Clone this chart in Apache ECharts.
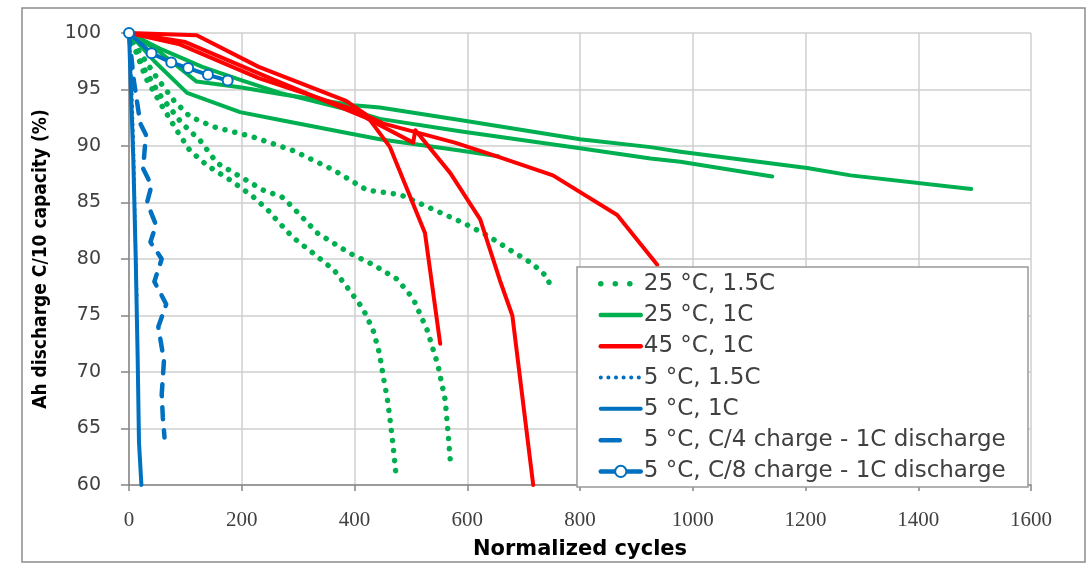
<!DOCTYPE html>
<html>
<head>
<meta charset="utf-8">
<script src="https://cdn.jsdelivr.net/npm/echarts@6/dist/echarts.min.js"></script>
<style>
  html, body, #main { width: 100%; height: 100%; margin: 0; background: #fff; }
</style>
</head>
<body>
<div id="main"></div>
<script>
// axis ticks
var xTicks = [0, 200, 400, 600, 800, 1000, 1200, 1400, 1600]
var yTicks = [60, 65, 70, 75, 80, 85, 90, 95, 100]

// 25 °C, 1.5C (three cells, dotted green)
var d25fast1 = [[0,100],[20,98.2],[50,96],[80,94],[108,92.6],[150,91.7],[220,90.8],[291,89.6],[362,87.9],[422,86.1],[481,85.7],[548,84.2],[593,83.2],[635,82.1],[676,80.8],[715,79.6],[742,78.4],[749,77.3]]
var d25fast2 = [[0,100],[25,97],[55,94.5],[94,92],[126,90.5],[156,88.5],[197,87.3],[238,86.1],[271,85.5],[286,84.8],[334,82.3],[392,80.5],[433,79.5],[476,78.2],[504,76.5],[529,73.7],[548,70.6],[561,67.5],[566,64.6],[571,61.5]]
var d25fast3 = [[0,100],[30,96],[59,93.5],[87,91.2],[108,89.6],[138,88.3],[179,87],[218,85.6],[247,84.3],[261,83.5],[291,81.9],[327,80.5],[364,79],[390,77.3],[415,75.6],[433,73.7],[444,71.7],[451,69.6],[458,67.7],[463,65.8],[468,63.7],[472,61.7],[474,60.7]]

// 25 °C, 1C (solid green)
var d25std1 = [[0,100],[50,98.5],[120,95.7],[197,95.2],[268,94.6],[398,93.6],[445,93.4],[587,92.3],[800,90.6],[925,89.9],[978,89.5],[1203,88.05],[1280,87.4],[1494,86.2]]
var d25std2 = [[0,100],[60,98.5],[130,97],[200,95.8],[268,94.7],[398,93.1],[445,92.4],[587,91.3],[800,89.8],[925,88.9],[978,88.6],[1141,87.3]]
var d25std3 = [[0,100],[45,97.5],[103,94.7],[197,93],[268,92.3],[387,91.15],[445,90.6],[587,89.6],[655,89.1]]

// 45 °C, 1C (solid red)
var d45a = [[0,100],[120,99.8],[230,97],[385,94],[420,92.8],[463,89.9],[525,82.3],[552,72.5]]
var d45b = [[0,100],[100,99.2],[250,96],[420,92.5],[504,90.3],[508,91.4],[570,87.6],[623,83.5],[658,78.1],[680,75],[717,60]]
var d45c = [[0,100],[90,99],[230,96],[400,93.2],[450,92],[578,90.3],[658,89],[752,87.4],[866,83.9],[937,79.5]]

// 5 °C series (blue)
var d5fast = [[0,100],[5,95],[8,90],[10,85],[12,80],[14,76.5]]
var d5std = [[0,100],[7.6,88.9],[11.9,80.1],[15.4,71.2],[17.7,63.8],[22,60]]
var d5c4 = [[0,100],[8,96],[20,92],[30,91],[25,88],[40,86.5],[32,85],[48,83],[38,81.5],[58,80],[45,78],[66,76],[52,74],[62,71],[58,68],[60,66],[63,64.2]]
var d5c8 = [[0,100],[40,98.2],[75,97.4],[105,96.9],[140,96.3],[175,95.8]]

var GREEN = '#00B050', RED = '#FF0000', BLUE = '#0070C0'

var chart = echarts.init(document.getElementById('main'))

function line(name, data, color, width, type, extra) {
  var s = {
    name: name, type: 'line', data: data,
    showSymbol: false, symbol: 'none',
    lineStyle: { color: color, width: width, type: type || 'solid', cap: 'round', join: 'round' },
    itemStyle: { color: color },
    emphasis: { disabled: true },
    animation: false
  }
  return Object.assign(s, extra || {})
}

var dotted = [0.1, 10]
var series = [
  line('25 °C, 1.5C', d25fast1, GREEN, 5.5, dotted),
  line('25 °C, 1.5C', d25fast2, GREEN, 5.5, dotted),
  line('25 °C, 1.5C', d25fast3, GREEN, 5.5, dotted),
  line('25 °C, 1C', d25std1, GREEN, 4),
  line('25 °C, 1C', d25std2, GREEN, 4),
  line('25 °C, 1C', d25std3, GREEN, 4),
  line('45 °C, 1C', d45a, RED, 4),
  line('45 °C, 1C', d45b, RED, 4),
  line('45 °C, 1C', d45c, RED, 4),
  line('5 °C, 1.5C', d5fast, BLUE, 3.5, [0.1, 6]),
  line('5 °C, 1C', d5std, BLUE, 4),
  line('5 °C, C/4 charge - 1C discharge', d5c4, BLUE, 4.5, [12, 11]),
  line('5 °C, C/8 charge - 1C discharge', d5c8, BLUE, 4, 'solid', {
    showSymbol: true, symbol: 'emptyCircle', symbolSize: 10,
    itemStyle: { color: BLUE, borderWidth: 2 }
  })
]

// legend icon look per entry
var legendLook = {
  '25 °C, 1.5C': { width: 5.5, type: [0.1, 14.4] },
  '25 °C, 1C': { width: 4.5, type: 'solid' },
  '45 °C, 1C': { width: 4.5, type: 'solid' },
  '5 °C, 1.5C': { width: 4, type: [0.1, 7.5] },
  '5 °C, 1C': { width: 4, type: 'solid' },
  '5 °C, C/4 charge - 1C discharge': { width: 4.5, type: [19, 40] },
  '5 °C, C/8 charge - 1C discharge': { width: 4.5, type: 'solid' }
}
var legendNames = series.map(function (s) { return s.name })
  .filter(function (n, i, a) { return a.indexOf(n) === i })

chart.setOption({
  backgroundColor: '#fff',
  animation: false,
  grid: { left: 129, right: 60, top: 33, bottom: 85 },
  graphic: [
    { type: 'rect', shape: { x: 22, y: 8, width: 1063, height: 554 },
      style: { fill: 'none', stroke: '#8c8c8c', lineWidth: 1.5 }, z: -1 },
    { type: 'rect', shape: { x: 577, y: 267, width: 451, height: 220 },
      style: { fill: '#fff', stroke: '#999', lineWidth: 1.5 }, z: 5 }
  ],
  legend: {
    orient: 'vertical', left: 598, top: 268, padding: 0,
    itemWidth: 40, itemHeight: 14, itemGap: 0,
    textStyle: { fontFamily: 'DejaVu Sans', fontSize: 23, color: '#404040', lineHeight: 31.3, padding: [0, 0, 0, -2] },
    data: legendNames.map(function (n) {
      var lk = legendLook[n]
      var item = { name: n, lineStyle: { width: lk.width, type: lk.type, cap: 'round' } }
      if (n.indexOf('C/8') < 0) item.itemStyle = { opacity: 0 }
      return item
    }),
    z: 10
  },
  xAxis: {
    type: 'value', min: 0, max: 1600, interval: 200,
    name: 'Normalized cycles', nameLocation: 'middle', nameGap: 54,
    nameTextStyle: { fontFamily: 'DejaVu Sans', fontWeight: 'bold', fontSize: 21, color: '#000' },
    axisLine: { show: true, lineStyle: { color: '#868686', width: 1.5 } },
    axisTick: { show: true, length: 6, lineStyle: { color: '#868686', width: 1.5 } },
    axisLabel: { margin: 25, fontFamily: 'Liberation Sans Narrow', fontSize: 21, color: '#404040',
      formatter: function (v) { return String(v) } },
    splitLine: { show: true, lineStyle: { color: '#cfcfcf', width: 1.5 } }
  },
  yAxis: {
    type: 'value', min: 60, max: 100, interval: 5,
    name: 'Ah discharge C/10 capacity (%)', nameLocation: 'middle', nameGap: 78,
    nameTextStyle: { fontFamily: 'DejaVu Sans Condensed', fontWeight: 'bold', fontSize: 19, color: '#000' },
    axisLine: { show: true, lineStyle: { color: '#868686', width: 1.5 } },
    axisTick: { show: true, length: 8, lineStyle: { color: '#868686', width: 1.5 } },
    axisLabel: { margin: 28, fontFamily: 'DejaVu Sans', fontSize: 19, color: '#404040' },
    splitLine: { show: true, lineStyle: { color: '#cfcfcf', width: 1.5 } }
  },
  series: series
})
</script>
</body>
</html>
